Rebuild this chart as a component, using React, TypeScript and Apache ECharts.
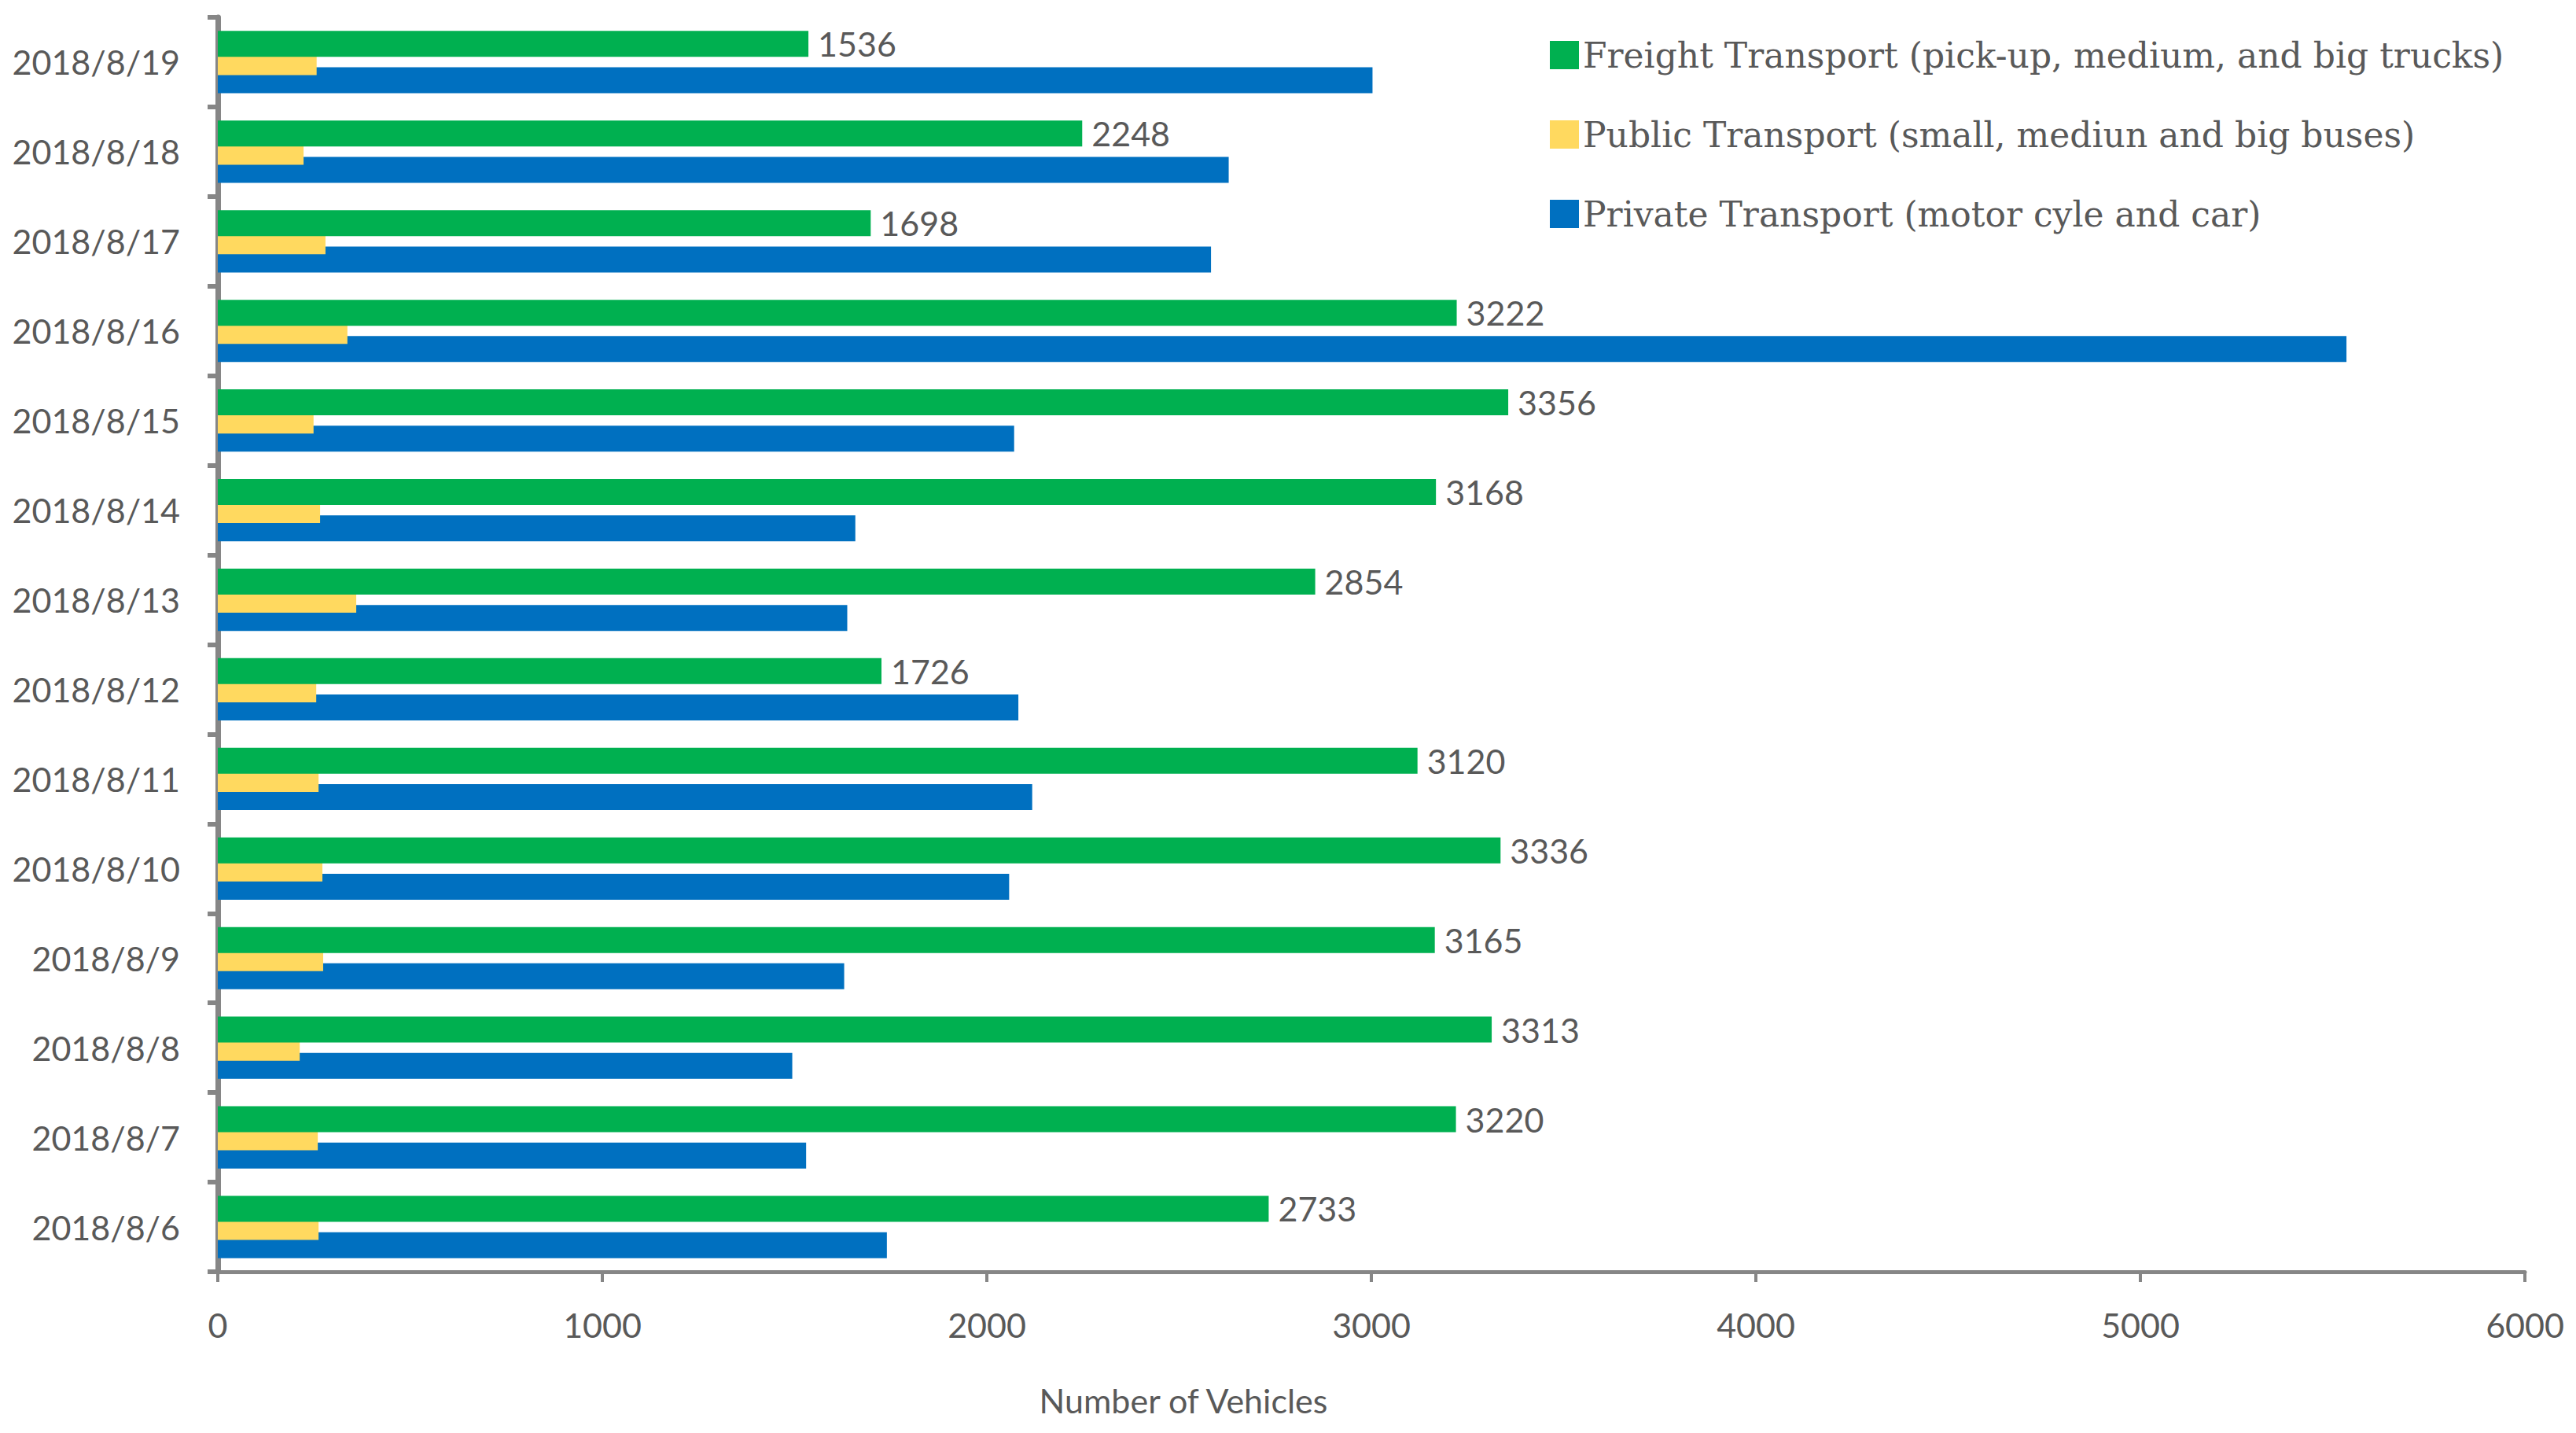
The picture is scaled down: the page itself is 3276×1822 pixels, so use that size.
import React, { useEffect, useRef } from "react";
import * as echarts from "echarts";

// categories, bottom to top
const dates = [
  "2018/8/6", "2018/8/7", "2018/8/8", "2018/8/9", "2018/8/10", "2018/8/11", "2018/8/12",
  "2018/8/13", "2018/8/14", "2018/8/15", "2018/8/16", "2018/8/17", "2018/8/18", "2018/8/19",
];

const freight = [2733, 3220, 3313, 3165, 3336, 3120, 1726, 2854, 3168, 3356, 3222, 1698, 2248, 1536];
const publicT = [262, 260, 213, 274, 272, 262, 256, 360, 266, 249, 337, 280, 223, 257];
const privateT = [1740, 1530, 1494, 1629, 2058, 2118, 2082, 1637, 1658, 2071, 5536, 2583, 2629, 3003];

const seriesNames = [
  "Freight Transport (pick-up, medium, and big trucks)",
  "Public Transport (small, mediun and big buses)",
  "Private Transport (motor cyle and car)",
];

const xTicks = { min: 0, max: 6000, interval: 1000 };

const grey = "#595959";
const axisGrey = "#868686";
const sans = "Lato";

const App: React.FC = () => {
  const chartRef = useRef<HTMLDivElement>(null);

  useEffect(() => {
    const chart = echarts.init(chartRef.current, undefined, { renderer: "svg" });

    const option: echarts.EChartsOption = {
      animation: false,
      backgroundColor: "#ffffff",
      color: ["#00B050", "#FFD95F", "#0070C0"],
      grid: { left: 277, right: 65, top: 22, bottom: 205, containLabel: false },
      legend: {
        data: seriesNames,
        orient: "vertical",
        left: 1966,
        top: 43,
        icon: "rect",
        itemWidth: 37,
        itemHeight: 36,
        itemGap: 57,
        textStyle: {
          color: grey,
          fontFamily: "DejaVu Serif",
          fontSize: 44,
          lineHeight: 36,
        },
      },
      xAxis: {
        type: "value",
        min: xTicks.min,
        max: xTicks.max,
        interval: xTicks.interval,
        name: "Number of Vehicles",
        nameLocation: "middle",
        nameGap: 142,
        nameTextStyle: {
          color: grey,
          fontFamily: sans,
          fontSize: 43,
          padding: [0, 478, 0, 0],
        },
        axisLine: { show: true, lineStyle: { color: axisGrey, width: 5 } },
        axisTick: { show: true, length: 13, lineStyle: { color: axisGrey, width: 4 } },
        axisLabel: {
          color: grey,
          fontFamily: sans,
          fontSize: 43,
          margin: 46,
          formatter: (v: number) => String(v),
        },
        splitLine: { show: false },
      },
      yAxis: {
        type: "category",
        data: dates,
        axisLine: { show: true, lineStyle: { color: axisGrey, width: 7 } },
        axisTick: { show: true, length: 13, lineStyle: { color: axisGrey, width: 6 } },
        axisLabel: { color: grey, fontFamily: sans, fontSize: 43, margin: 48 },
        splitLine: { show: false },
      },
      series: [
        {
          name: seriesNames[0],
          type: "bar",
          data: freight,
          barWidth: 33,
          barGap: "-30%",
          z: 4,
          label: {
            show: true,
            position: "right",
            distance: 12,
            color: grey,
            fontFamily: sans,
            fontSize: 43,
          },
        },
        {
          name: seriesNames[1],
          type: "bar",
          data: publicT,
          barWidth: 33,
          barGap: "-30%",
          z: 3,
        },
        {
          name: seriesNames[2],
          type: "bar",
          data: privateT,
          barWidth: 33,
          barGap: "-30%",
          z: 2,
        },
      ],
    };

    chart.setOption(option);
    const onResize = () => chart.resize();
    window.addEventListener("resize", onResize);
    return () => {
      window.removeEventListener("resize", onResize);
      chart.dispose();
    };
  }, []);

  return (
    <div
      ref={chartRef}
      style={{ position: "fixed", left: 0, top: 0, width: "100vw", height: "100vh" }}
    />
  );
};

export default App;
